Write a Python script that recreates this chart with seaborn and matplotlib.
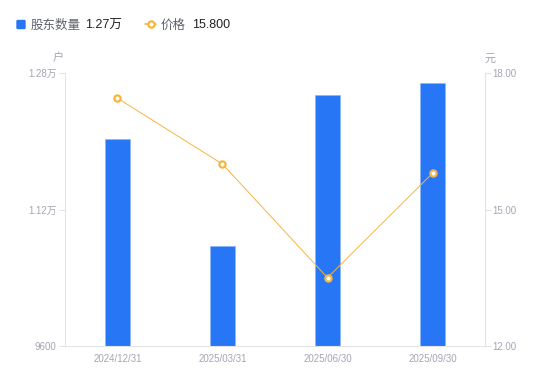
import matplotlib
matplotlib.use('Agg')
import matplotlib.pyplot as plt
import matplotlib.patches as mpatches
from matplotlib.lines import Line2D
import pandas as pd
import seaborn as sns

# 数据
dates = ['2024/12/31', '2025/03/31', '2025/06/30', '2025/09/30']
holders = [12030, 10770, 12540, 12690]
prices = [17.45, 16.00, 13.50, 15.80]

left_ticks = [9600, 11200, 12800]
left_labels = ['9600', '1.12万', '1.28万']
right_ticks = [12.0, 15.0, 18.0]
right_labels = ['12.00', '15.00', '18.00']

BAR_COLOR = '#2676F5'
LINE_COLOR = '#F7B53F'
TICK_COLOR = '#A3A5B5'
SPINE_COLOR = '#E3E4E8'

sns.set_style('white')
plt.rcParams['font.family'] = ['Liberation Sans', 'Noto Sans CJK SC', 'DejaVu Sans']

df = pd.DataFrame({'date': dates, 'holders': holders, 'price': prices})

fig = plt.figure(figsize=(5.5, 3.81), dpi=100)
ax = fig.add_axes([0.118, 0.092, 0.764, 0.716])

sns.barplot(data=df, x='date', y='holders', color=BAR_COLOR, saturation=1,
            width=0.24, edgecolor='#8DB6FA', linewidth=0.5, ax=ax)
ax.set_xlim(-0.5, 3.5)
ax.set_ylim(left_ticks[0], left_ticks[-1])
ax.set_yticks(left_ticks)
ax.set_yticklabels(left_labels)
ax.set_xlabel('')
ax.set_ylabel('')

ax2 = ax.twinx()
sns.pointplot(data=df, x='date', y='price', color=LINE_COLOR, ax=ax2,
              markers='o', linewidth=0.7, markersize=4.5,
              markerfacecolor='white', markeredgewidth=1.6,
              markeredgecolor=LINE_COLOR)
ax2.set_xlim(-0.5, 3.5)
ax2.set_ylim(right_ticks[0], right_ticks[-1])
ax2.set_yticks(right_ticks)
ax2.set_yticklabels(right_labels)
ax2.set_ylabel('')
ax2.set_xlabel('')

for a in (ax, ax2):
    for s in a.spines.values():
        s.set_visible(False)
    a.tick_params(axis='both', colors=SPINE_COLOR, labelcolor=TICK_COLOR,
                  labelsize=7, length=4, width=0.8)
    a.grid(False)
ax.spines['left'].set_visible(True)
ax.spines['left'].set_color(SPINE_COLOR)
ax.spines['bottom'].set_visible(True)
ax.spines['bottom'].set_color(SPINE_COLOR)
ax2.spines['right'].set_visible(True)
ax2.spines['right'].set_color(SPINE_COLOR)
ax.tick_params(axis='x', length=0, pad=6)
ax.tick_params(axis='y', pad=2)
ax2.tick_params(axis='y', pad=1)

# 单位
fig.text(58 / 550, 1 - 58.5 / 381, '户', fontsize=8, color=TICK_COLOR, ha='center', va='center')
fig.text(490 / 550, 1 - 58.5 / 381, '元', fontsize=8, color=TICK_COLOR, ha='center', va='center')

# 顶部图例
ly = 1 - 25.5 / 381
fig.patches.append(mpatches.FancyBboxPatch((17 / 550, 1 - 28.5 / 381), 8 / 550, 8 / 381,
                                           boxstyle='round,pad=0,rounding_size=0.002',
                                           transform=fig.transFigure, color=BAR_COLOR))
fig.text(31 / 550, ly, '股东数量', fontsize=9, color='#5F6270', va='center')
fig.text(85 / 550, ly, '1.27万', fontsize=9, color='#222222', va='center')
fig.lines.append(Line2D([145 / 550, 156 / 550], [1 - 24 / 381, 1 - 24 / 381],
                        transform=fig.transFigure, color=LINE_COLOR, linewidth=1.2))
fig.lines.append(Line2D([150.5 / 550], [1 - 24 / 381], transform=fig.transFigure,
                        color=LINE_COLOR, marker='o', markersize=4.5,
                        markerfacecolor='white', markeredgewidth=1.6, linestyle='none'))
fig.text(161 / 550, ly, '价格', fontsize=9, color='#5F6270', va='center')
fig.text(192 / 550, ly, '15.800', fontsize=9, color='#222222', va='center')

fig.savefig('out.png', dpi=100)
